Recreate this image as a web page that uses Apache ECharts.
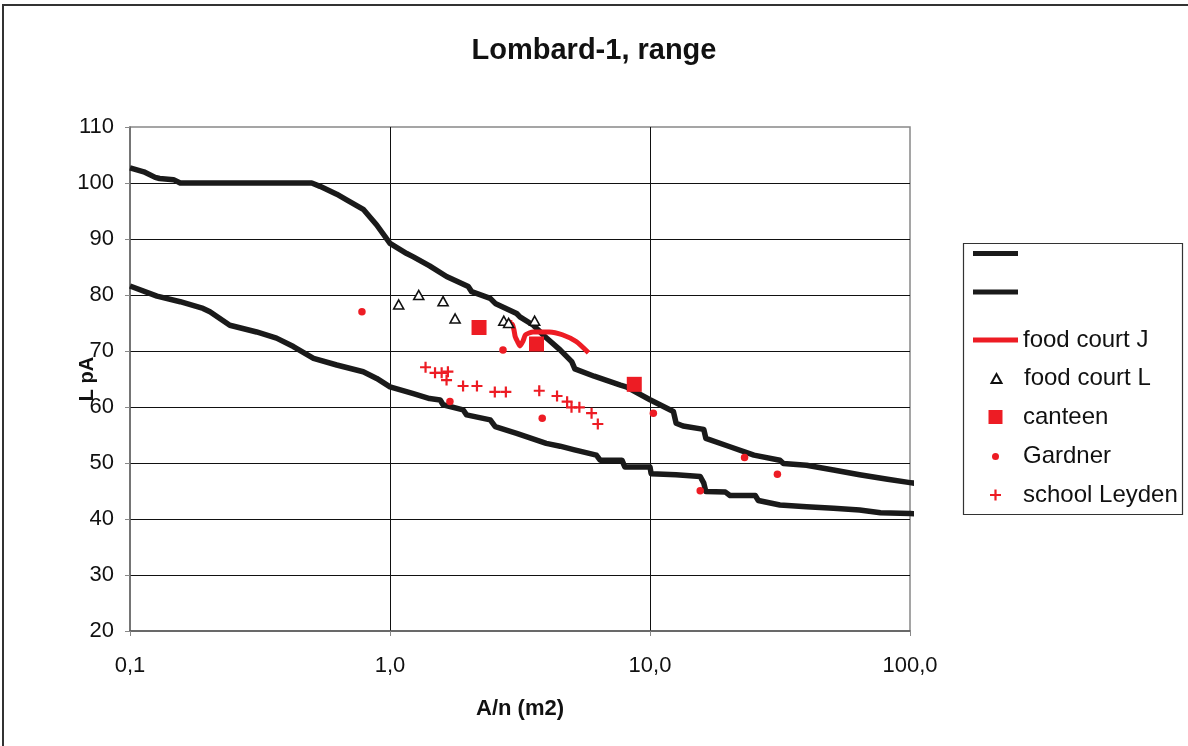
<!DOCTYPE html>
<html>
<head>
<meta charset="utf-8">
<script src="https://cdn.jsdelivr.net/npm/echarts@6/dist/echarts.min.js"></script>
<style>html,body{margin:0;padding:0;background:#fff;}#c{width:1188px;height:746px;}</style>
</head>
<body>
<div id="c"></div>
<script>
// ---- data ----
const xTickLabels = ['0,1', '1,0', '10,0', '100,0'];
const yTicks = [20, 30, 40, 50, 60, 70, 80, 90, 100, 110];
const upperCurve = [[0.1,102.7],[0.113,102.0],[0.125,101.0],[0.13,100.8],[0.147,100.6],[0.156,100.0],[0.5,100.0],[0.538,99.4],[0.624,98.0],[0.681,97.0],[0.789,95.3],[0.889,92.5],[1.0,89.2],[1.16,87.4],[1.23,86.8],[1.42,85.2],[1.65,83.3],[2.0,81.5],[2.06,80.6],[2.43,79.4],[2.54,78.5],[3.07,76.7],[3.16,76.1],[3.56,74.6],[3.94,72.6],[4.51,70.2],[5.0,68.1],[5.14,66.8],[6.1,65.5],[7.7,63.9],[8.1,63.6],[10.0,61.3],[12.3,59.2],[12.6,57.1],[13.4,56.6],[16.1,56.0],[16.4,54.4],[20.3,52.9],[25.1,51.4],[31.6,50.5],[32.6,49.9],[40,49.6],[50.8,48.75],[64,47.9],[82,47.1],[100,46.5],[108,46.3]];
const lowerCurve = [[0.1,81.6],[0.127,79.8],[0.156,78.8],[0.191,77.6],[0.203,77.0],[0.242,74.6],[0.307,73.4],[0.366,72.3],[0.425,70.8],[0.508,68.7],[0.624,67.5],[0.789,66.3],[0.889,65.1],[1.0,63.6],[1.23,62.4],[1.42,61.5],[1.56,61.25],[1.60,60.4],[1.91,59.5],[1.97,58.6],[2.43,57.7],[2.54,56.5],[3.07,55.3],[3.99,53.5],[4.51,53.0],[5.08,52.4],[6.22,51.4],[6.43,50.5],[7.8,50.5],[8.0,49.3],[10,49.3],[10.1,48.1],[12.6,47.9],[15.6,47.6],[16.1,46.4],[16.4,44.9],[19.5,44.8],[20.3,44.2],[25.4,44.2],[26.1,43.3],[31.6,42.5],[40,42.2],[50.8,41.9],[64,41.6],[77,41.1],[100,41.0],[108,40.9]];
const foodCourtJ = [[2.9,75.6],[2.85,74.6],[2.95,74.8],[3.0,73.7],[3.03,72.6],[3.1,71.6],[3.16,70.9],[3.25,71.8],[3.32,72.9],[3.55,73.4],[4.1,73.4],[4.6,72.9],[5.2,71.7],[5.8,69.7]];
const foodCourtL = [[1.08,78.3],[1.29,80.0],[1.60,78.9],[1.78,75.8],[2.74,75.4],[2.86,75.0],[3.6,75.4]];
const canteen = [[2.2,74.2],[3.66,71.25],[8.7,64.05]];
const gardner = [[0.78,77.0],[1.70,61.0],[2.72,70.2],[3.85,58.0],[10.3,58.9],[15.6,45.05],[23.1,51.0],[30.9,48.0]];
const schoolLeyden = [[1.37,67.1],[1.49,66.1],[1.58,66.1],[1.67,66.3],[1.65,64.8],[1.91,63.75],[2.16,63.75],[2.53,62.7],[2.79,62.7],[3.75,62.9],[4.39,61.96],[4.80,60.95],[4.99,59.95],[5.35,59.95],[5.96,58.9],[6.30,56.96]];
const seriesNames = ['upper', 'lower', 'food court J', 'food court L', 'canteen', 'Gardner', 'school Leyden'];

// ---- chart ----
const FONT = "'Liberation Sans', Arial, sans-serif";
const RED = '#ed1c24';
const PLUS = 'path://M4,0H6V4H10V6H6V10H4V6H0V4H4Z';
const chart = echarts.init(document.getElementById('c'), null, {renderer: 'canvas'});

const legendCenters = [263, 301.5, 340, 378.5, 417, 456.5, 495];
const legendIconW = [45, 45, 45, 10, 14, 7, 11];
const legendIconH = [5, 5, 5, 9, 14, 7, 11];
const ICON_CX = 995.5, TEXT_X = 1023;
const legends = seriesNames.map((n, i) => {
  const w = legendIconW[i];
  const left = ICON_CX - w / 2;
  const pad = TEXT_X - (left + w + 5);
  return {
    data: [{name: n, icon: i < 3 ? 'rect' : undefined}],
    orient: 'vertical',
    left: left,
    top: legendCenters[i] - 12,
    padding: 0,
    itemWidth: w,
    itemHeight: legendIconH[i],
    itemGap: 0,
    selectedMode: false,
    formatter: name => (name === 'upper' || name === 'lower') ? '' : name,
    textStyle: {fontFamily: FONT, fontSize: 24, color: '#111', lineHeight: 24, padding: [0, 0, 0, pad]}
  };
});

const option = {
  backgroundColor: '#fff',
  animation: false,
  title: {
    text: 'Lombard-1, range',
    left: 'center',
    top: 31,
    textStyle: {fontFamily: FONT, fontSize: 29, fontWeight: 'bold', color: '#111'}
  },
  graphic: [
    {type: 'rect', shape: {x: 3, y: 5, width: 1200, height: 760}, style: {fill: 'none', stroke: '#333', lineWidth: 2}, silent: true, z: -1},
    {type: 'rect', shape: {x: 963.5, y: 243.5, width: 219, height: 271}, style: {fill: 'none', stroke: '#333', lineWidth: 1.2}, silent: true, z: -1}
  ],
  legend: legends,
  grid: {left: 130, right: 278, top: 127, bottom: 115, show: true, borderColor: '#888', borderWidth: 1.5, backgroundColor: 'transparent'},
  xAxis: {
    type: 'log',
    logBase: 10,
    min: 0.1,
    max: 100,
    name: 'A/n (m2)',
    nameLocation: 'middle',
    nameGap: 67,
    nameMoveOverlap: false,
    nameTextStyle: {fontFamily: FONT, fontSize: 22, fontWeight: 'bold', color: '#111'},
    axisLine: {show: true, onZero: false, lineStyle: {color: '#555', width: 1.5}},
    axisTick: {show: true, length: 5, lineStyle: {color: '#888'}},
    minorTick: {show: false},
    axisLabel: {fontFamily: FONT, fontSize: 22, color: '#111', margin: 24,
      formatter: (v, i) => xTickLabels[i] !== undefined ? xTickLabels[i] : ''},
    splitLine: {show: true, showMinLine: false, showMaxLine: false, lineStyle: {color: '#111', width: 1}}
  },
  yAxis: {
    type: 'value',
    min: yTicks[0],
    max: yTicks[yTicks.length - 1],
    interval: 10,
    name: 'L pA',
    nameLocation: 'middle',
    nameGap: 33,
    nameMoveOverlap: false,
    nameRotate: 90,
    nameTextStyle: {fontFamily: FONT, fontSize: 20, fontWeight: 'bold', color: '#111'},
    axisLine: {show: true, lineStyle: {color: '#666', width: 1.5}},
    axisTick: {show: true, length: 5, lineStyle: {color: '#888'}},
    axisLabel: {fontFamily: FONT, fontSize: 22, color: '#111', margin: 16},
    splitLine: {show: true, showMinLine: false, showMaxLine: false, lineStyle: {color: '#111', width: 1}}
  },
  series: [
    {name: 'upper', type: 'line', data: upperCurve, showSymbol: false, symbol: 'none', clip: false, z: 2,
      color: '#1a1a1a', lineStyle: {color: '#1a1a1a', width: 5.5, join: 'round'}},
    {name: 'lower', type: 'line', data: lowerCurve, showSymbol: false, symbol: 'none', clip: false, z: 2,
      color: '#1a1a1a', lineStyle: {color: '#1a1a1a', width: 5.5, join: 'round'}},
    {name: 'food court J', type: 'line', data: foodCourtJ, showSymbol: false, symbol: 'none', z: 3, smooth: 0.2,
      color: RED, lineStyle: {color: RED, width: 5, join: 'round', cap: 'butt'}},
    {name: 'food court L', type: 'scatter', data: foodCourtL, symbol: 'triangle', symbolSize: [10, 9], z: 4,
      itemStyle: {color: '#fff', borderColor: '#111', borderWidth: 1.6, opacity: 1}},
    {name: 'canteen', type: 'scatter', data: canteen, symbol: 'rect', symbolSize: 15, z: 4,
      itemStyle: {color: RED, opacity: 1}},
    {name: 'Gardner', type: 'scatter', data: gardner, symbol: 'circle', symbolSize: 7.5, z: 4,
      itemStyle: {color: RED, opacity: 1}},
    {name: 'school Leyden', type: 'scatter', data: schoolLeyden, symbol: PLUS, symbolSize: 11, z: 4,
      itemStyle: {color: RED, opacity: 1}}
  ]
};
chart.setOption(option);
</script>
</body>
</html>
